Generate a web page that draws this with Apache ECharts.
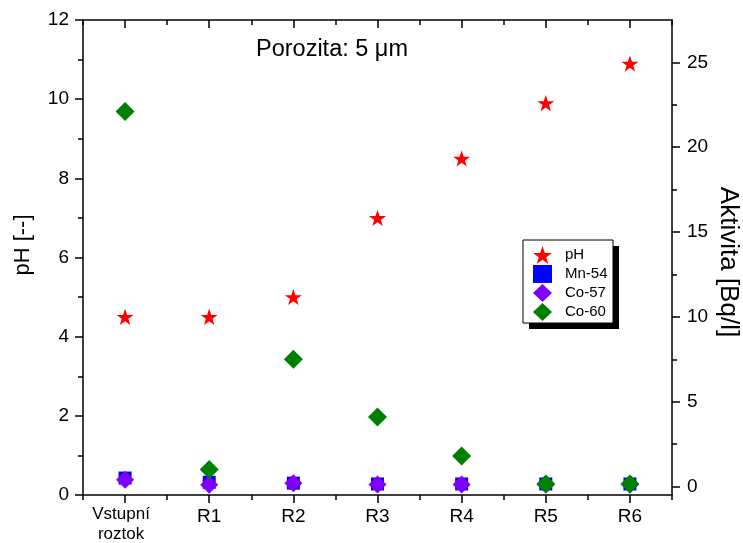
<!DOCTYPE html>
<html>
<head>
<meta charset="utf-8">
<script src="https://cdn.jsdelivr.net/npm/echarts@6/dist/echarts.min.js"></script>
<style>
html,body{margin:0;padding:0;background:#fff;}
#chart{width:743px;height:543px;}
</style>
</head>
<body>
<div id="chart"></div>
<script>
// data
var categories = ['Vstupní\nroztok', 'R1', 'R2', 'R3', 'R4', 'R5', 'R6'];
var phValues = [4.5, 4.5, 5.0, 7.0, 8.5, 9.9, 10.9];
var mn54 = [0.5, 0.25, 0.2, 0.15, 0.15, 0.15, 0.15];
var co57 = [0.4, 0.1, 0.2, 0.12, 0.12, 0.12, 0.12];
var co60 = [22.1, 1.0, 7.5, 4.1, 1.8, 0.15, 0.15];
var activityTicks = [0, 5, 10, 15, 20, 25];
var activityMinorTicks = [2.5, 7.5, 12.5, 17.5, 22.5];

var font = '"Liberation Sans", Arial, sans-serif';
var star = 'path://M50,0 L61.8,35.1 L98.1,35.1 L68.8,56.7 L79.4,90.9 L50,69.7 L20.6,90.9 L31.2,56.7 L1.9,35.1 L38.2,35.1 Z';
var lineSt = {color: '#000', width: 1.5};

function catAxis(pos, major, inside, showLine, showLabel) {
	return {
		type: 'category',
		data: categories,
		position: pos,
		boundaryGap: true,
		axisLine: {show: showLine, onZero: false, lineStyle: lineSt},
		axisTick: {show: true, alignWithLabel: major, inside: inside, length: major ? 8 : 5, lineStyle: lineSt},
		axisLabel: {
			show: showLabel, interval: 0, margin: 9, color: '#000', fontFamily: font,
			formatter: function (v) {
				if (v.indexOf('\n') >= 0) {
					return v.split('\n').map(function (s) { return '{v|' + s + '}'; }).join('\n');
				}
				return '{r|' + v + '}';
			},
			rich: {
				v: {fontSize: 17, lineHeight: 20, fontFamily: font, color: '#000', padding: [0, 8, 0, 0]},
				r: {fontSize: 19, lineHeight: 21, fontFamily: font, color: '#000', padding: [4, 0, 0, 0]}
			}
		},
		splitLine: {show: false}
	};
}

var myChart = echarts.init(document.getElementById('chart'));
var option = {
	animation: false,
	backgroundColor: '#fff',
	title: {
		text: 'Porozita: 5 μm',
		left: 256, top: 38, padding: 0,
		textStyle: {fontSize: 23.5, fontWeight: 'normal', color: '#000', fontFamily: font}
	},
	legend: {
		orient: 'vertical',
		left: 523, top: 240,
		padding: [6, 8, 4, 10],
		itemGap: 1,
		itemWidth: 19, itemHeight: 18,
		textStyle: {fontSize: 15, color: '#000', fontFamily: font, padding: [0, 0, 0, 8]},
		data: ['pH', 'Mn-54', 'Co-57', 'Co-60']
	},
	grid: {left: 83, right: 71, top: 20, bottom: 48, containLabel: false, outerBoundsMode: 'none'},
	xAxis: [
		catAxis('bottom', true, false, true, true),
		catAxis('bottom', false, false, false, false),
		catAxis('top', true, true, true, false),
		catAxis('top', false, true, false, false)
	],
	yAxis: [
		{
			type: 'value', position: 'left', min: 0, max: 12, interval: 2,
			axisLine: {show: true, onZero: false, lineStyle: lineSt},
			axisTick: {show: true, length: 8, lineStyle: lineSt},
			minorTick: {show: true, splitNumber: 2, length: 5, lineStyle: lineSt},
			axisLabel: {margin: 14, color: '#000', fontSize: 19, fontFamily: font},
			splitLine: {show: false}
		},
		{
			type: 'value', position: 'right', min: -0.5, max: 27.5,
			axisLine: {show: true, onZero: false, lineStyle: lineSt},
			axisTick: {show: true, length: 8, customValues: activityTicks, lineStyle: lineSt},
			axisLabel: {margin: 15, color: '#000', fontSize: 19, fontFamily: font, customValues: activityTicks},
			splitLine: {show: false}
		},
		{
			type: 'value', position: 'right', min: -0.5, max: 27.5,
			axisLine: {show: false, onZero: false},
			axisTick: {show: true, length: 5, customValues: activityMinorTicks, lineStyle: lineSt},
			axisLabel: {show: false},
			splitLine: {show: false}
		}
	],
	graphic: [
		// legend frame with its hard shadow
		{type: 'rect', z: 1, shape: {x: 529, y: 246, width: 90, height: 83}, style: {fill: '#000'}},
		{type: 'rect', z: 2, shape: {x: 523, y: 240, width: 90, height: 83}, style: {fill: '#fff', stroke: '#000', lineWidth: 1}},
		{
			type: 'text', x: 23, y: 245, rotation: Math.PI / 2,
			style: {text: 'pH [--]', fontSize: 22, fontFamily: font, fill: '#000', textAlign: 'center', textVerticalAlign: 'middle'}
		},
		{
			type: 'text', x: 728, y: 262, rotation: -Math.PI / 2,
			style: {text: 'Aktivita [Bq/l]', fontSize: 26, fontFamily: font, fill: '#000', textAlign: 'center', textVerticalAlign: 'middle'}
		}
	],
	series: [
		{name: 'pH', type: 'scatter', xAxisIndex: 0, yAxisIndex: 0, data: phValues,
			symbol: star, symbolKeepAspect: true, symbolSize: 17, itemStyle: {color: '#ff0000', opacity: 1}},
		{name: 'Mn-54', type: 'scatter', xAxisIndex: 0, yAxisIndex: 1, data: mn54,
			symbol: 'rect', symbolSize: 13, itemStyle: {color: '#0000ff', opacity: 1}},
		{name: 'Co-57', type: 'scatter', xAxisIndex: 0, yAxisIndex: 1, data: co57,
			symbol: 'diamond', symbolSize: 18, itemStyle: {color: '#8000ff', opacity: 1}},
		{name: 'Co-60', type: 'scatter', xAxisIndex: 0, yAxisIndex: 1, data: co60,
			symbol: 'diamond', symbolSize: 19, itemStyle: {color: '#008000', opacity: 1}}
	]
};
myChart.setOption(option);
</script>
</body>
</html>
